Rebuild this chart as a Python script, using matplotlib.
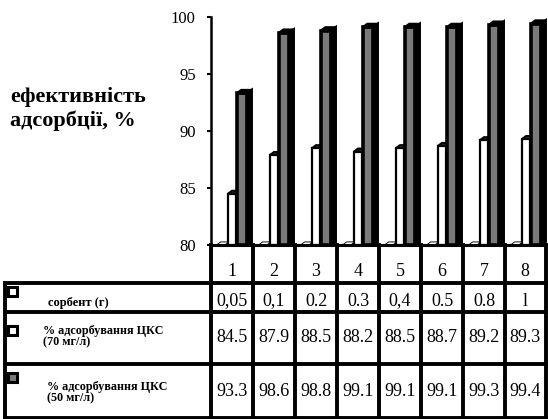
import matplotlib
matplotlib.use("Agg")
import matplotlib.pyplot as plt
from matplotlib.patches import Polygon, Rectangle
from matplotlib.lines import Line2D
import numpy as np

plt.rcParams['font.family'] = ['Liberation Serif', 'DejaVu Serif']

categories = ['1', '2', '3', '4', '5', '6', '7', '8']
sorbent = [0.05, 0.1, 0.2, 0.3, 0.4, 0.5, 0.8, 1.0]
sorbent_labels = ['0,05', '0,1', '0.2', '0.3', '0,4', '0.5', '0.8', 'l']
ads70 = [84.5, 87.9, 88.5, 88.2, 88.5, 88.7, 89.2, 89.3]
ads50 = [93.3, 98.6, 98.8, 99.1, 99.1, 99.1, 99.3, 99.4]
row_labels = ['сорбент (г)', '% адсорбування ЦКС\n(70 мг/л)', '% адсорбування ЦКС\n(50 мг/л)']
yticks = [80, 85, 90, 95, 100]

W, H = 548, 419
fig = plt.figure(figsize=(W / 100, H / 100), dpi=100)

def fx(x):
    return x / W

def fy(y):
    return 1 - y / H

ax = fig.add_axes([fx(211), fy(245), fx(547) - fx(211), fy(17) - fy(245)])
ax.set_xlim(-0.5, 7.5)
ax.set_ylim(80, 100)
ax.set_yticks(yticks)
ax.set_yticklabels([str(t) for t in yticks], fontsize=12)
ax.tick_params(axis='y', length=3, width=1.5, pad=8)
ax.set_xticks([])
for s in ['top', 'right', 'bottom']:
    ax.spines[s].set_visible(False)
ax.spines['left'].set_linewidth(1.8)

ymin = 80
dx, dy = 0.1, 0.27
x = np.arange(len(categories))

def bar3d(xc, width, val, front, side, topc, lw):
    x0, x1 = xc - width / 2, xc + width / 2
    top = max(val, ymin)
    ax.bar(xc, top - ymin, width=width, bottom=ymin, color=front,
           edgecolor='black', linewidth=lw, zorder=3)
    ax.add_patch(Polygon([(x1, ymin), (x1 + dx, ymin + dy), (x1 + dx, top + dy), (x1, top)],
                         closed=True, facecolor=side, edgecolor='black', linewidth=lw * 0.8, zorder=3))
    ax.add_patch(Polygon([(x0, top), (x0 + dx, top + dy), (x1 + dx, top + dy), (x1, top)],
                         closed=True, facecolor=topc, edgecolor='black', linewidth=lw * 0.8, zorder=3))

for i in range(len(categories)):
    bar3d(x[i] - 0.27, 0.2, sorbent[i], 'white', 'white', 'white', 0.8)
    bar3d(x[i] + 0.0, 0.2, ads70[i], 'white', 'white', '#222222', 1.6)
    bar3d(x[i] + 0.245, 0.24, ads50[i], '#7a7a7a', 'black', 'black', 2.6)

ax.axhline(80, color='black', lw=2.2, zorder=4, clip_on=False)

fig.text(fx(10), fy(109), 'ефективність\nадсорбції, %', fontsize=16, fontweight='bold',
         ha='left', va='center', linespacing=1.2)

# table
def vline(xp, y0, y1, lw=2.8):
    fig.add_artist(Line2D([fx(xp), fx(xp)], [fy(y0), fy(y1)], color='black', lw=lw))

def hline(y, x0, x1, lw=2.8):
    fig.add_artist(Line2D([fx(x0), fx(x1)], [fy(y), fy(y)], color='black', lw=lw))

col_edges = []
for e in np.arange(-0.5, 8.0, 1.0):
    px = ax.transData.transform((e, 80))[0]
    col_edges.append(px)
col_edges[-1] -= 1.5

for e in col_edges:
    vline(e, 245, 419)
hline(283, 5, col_edges[-1])
hline(312, 5, col_edges[-1])
hline(364, 5, col_edges[-1])
hline(418, 5, col_edges[-1])
vline(5, 283, 419)

centers = [(col_edges[i] + col_edges[i + 1]) / 2 for i in range(8)]
for i, c in enumerate(categories):
    fig.text(fx(centers[i]), fy(271), c, fontsize=13, ha='center', va='center')
    fig.text(fx(centers[i]), fy(301), sorbent_labels[i], fontsize=13, ha='center', va='center')
    fig.text(fx(centers[i]), fy(337), f'{ads70[i]:.1f}', fontsize=13, ha='center', va='center')
    fig.text(fx(centers[i]), fy(391), f'{ads50[i]:.1f}', fontsize=13, ha='center', va='center')

# legend keys
keys = [(287, 'white'), (326, 'white'), (373, '#7a7a7a')]
for ky, colr in keys:
    fig.add_artist(Rectangle((fx(8), fy(ky + 9)), fx(9), fy(0) - fy(9), facecolor=colr,
                             edgecolor='black', lw=2.2, transform=fig.transFigure))

fig.text(fx(48), fy(303), row_labels[0], fontsize=9, fontweight='bold', ha='left', va='center')
fig.text(fx(43), fy(337), row_labels[1], fontsize=8.7, fontweight='bold', ha='left', va='center',
         linespacing=0.95)
fig.text(fx(47), fy(393), row_labels[2], fontsize=8.7, fontweight='bold', ha='left', va='center',
         linespacing=0.95)

fig.savefig('out.png', dpi=100)
